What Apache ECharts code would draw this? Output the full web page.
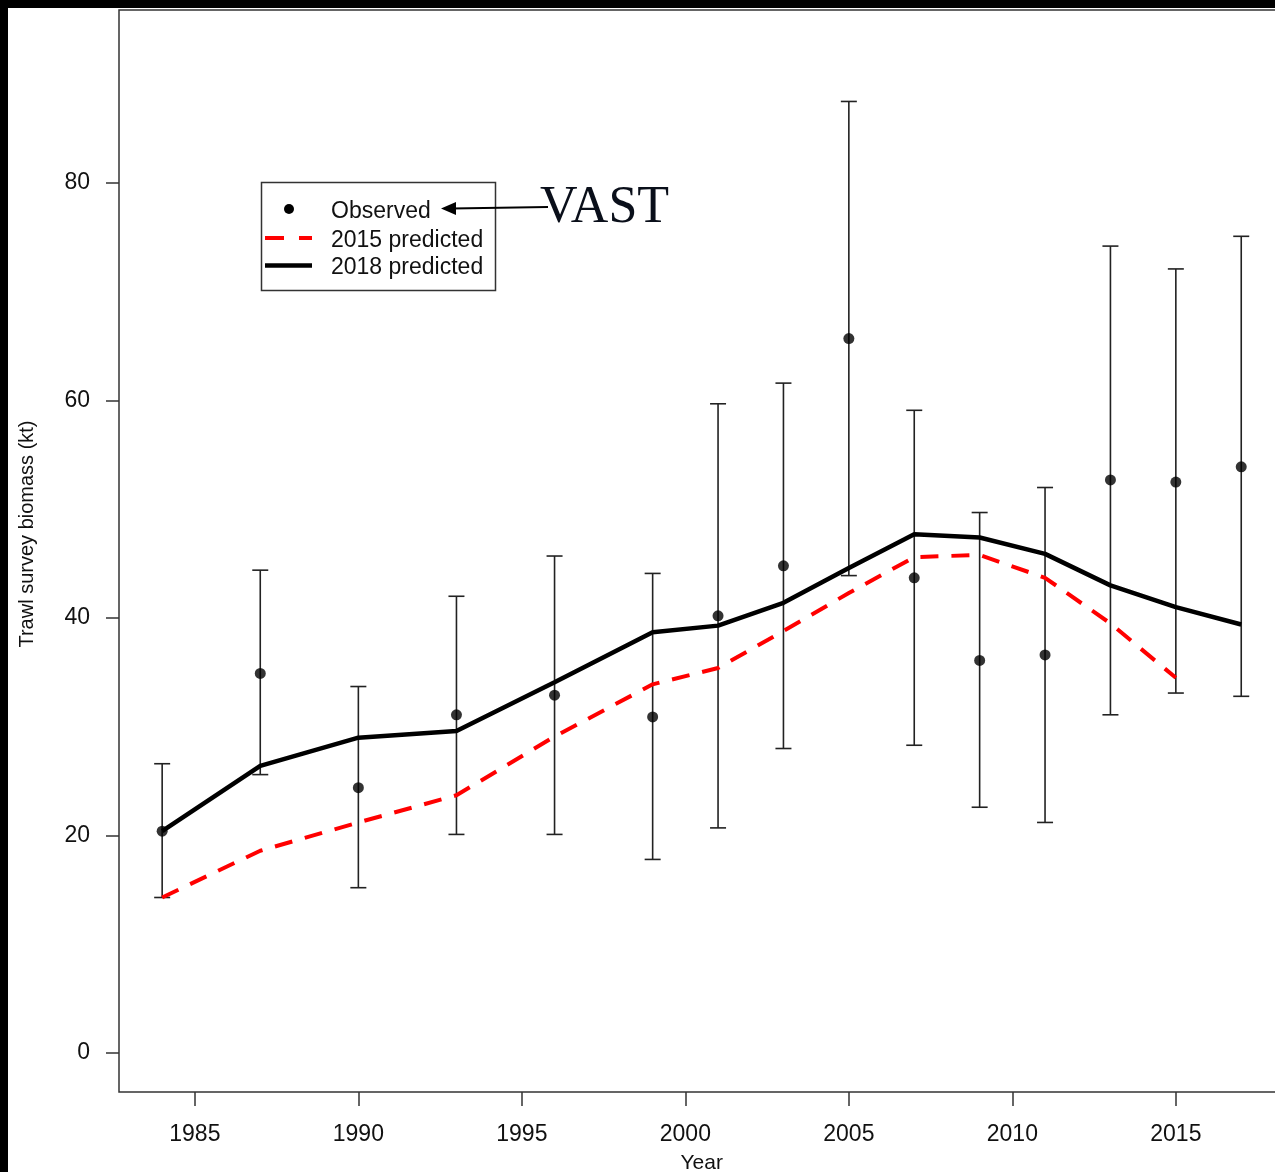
<!DOCTYPE html>
<html>
<head>
<meta charset="utf-8">
<script src="https://cdn.jsdelivr.net/npm/echarts@6/dist/echarts.min.js"></script>
<style>
html,body{margin:0;padding:0;background:#fff;}
#chart{width:1275px;height:1172px;}
</style>
</head>
<body>
<div id="chart"></div>
<script>
// ---- data ----
const years = [1984,1987,1990,1993,1996,1999,2001,2003,2005,2007,2009,2011,2013,2015,2017];
const observed = [20.4,34.9,24.4,31.1,32.9,30.9,40.2,44.8,65.7,43.7,36.1,36.6,52.7,52.5,53.9];
const lowerCI  = [14.3,25.6,15.2,20.1,20.1,17.8,20.7,28.0,43.9,28.3,22.6,21.2,31.1,33.1,32.8];
const upperCI  = [26.6,44.4,33.7,42.0,45.7,44.1,59.7,61.6,87.5,59.1,49.7,52.0,74.2,72.1,75.1];
const pred2018 = [20.4,26.4,29.0,29.6,34.1,38.7,39.3,41.4,44.6,47.7,47.4,45.9,43.0,41.0,39.4];
const years2015 = [1984,1987,1990,1993,1996,1999,2001,2003,2005,2007,2009,2011,2013,2015];
const pred2015 = [14.3,18.6,21.2,23.7,29.1,33.9,35.4,38.8,42.3,45.6,45.8,43.7,39.5,34.5];
const xTicks = [1985,1990,1995,2000,2005,2010,2015];
const yTicks = [0,20,40,60,80];
const legendLabels = ['Observed','2015 predicted','2018 predicted'];

const FONT = 'Liberation Sans, Arial, sans-serif';
const chart = echarts.init(document.getElementById('chart'), null, {renderer:'canvas'});

const obsData = years.map((y,i)=>[y, observed[i]]);
const ciData = years.map((y,i)=>[y, lowerCI[i], upperCI[i]]);
const p18 = years.map((y,i)=>[y, pred2018[i]]);
const p15 = years2015.map((y,i)=>[y, pred2015[i]]);

const option = {
  animation:false,
  backgroundColor:'#fff',
  grid:{left:119, top:10, width:1165.4, height:1082, outerBoundsMode:'none', containLabel:false,
        show:true, borderColor:'#333', borderWidth:1.5, backgroundColor:'transparent'},
  xAxis:{
    type:'value', min:1982.68, max:2018.32,
    name:'Year', nameLocation:'middle', nameGap:61,
    nameTextStyle:{fontFamily:FONT, fontSize:21, color:'#111'},
    axisLine:{show:false, onZero:false},
    splitLine:{show:false},
    axisTick:{show:true, length:14, inside:false, customValues:xTicks, lineStyle:{color:'#333', width:1.5}},
    axisLabel:{customValues:xTicks, margin:31, fontFamily:FONT, fontSize:23, color:'#111', formatter:v=>String(v)}
  },
  yAxis:{
    type:'value', min:-3.586, max:95.91,
    name:'Trawl survey biomass (kt)', nameLocation:'middle', nameGap:82,
    nameTextStyle:{fontFamily:FONT, fontSize:20, color:'#111', padding:[0,0,0,34]},
    axisLine:{show:false, onZero:false},
    splitLine:{show:false},
    axisTick:{show:true, length:13, inside:false, customValues:yTicks, lineStyle:{color:'#333', width:1.5}},
    axisLabel:{customValues:yTicks, margin:29, fontFamily:FONT, fontSize:23, color:'#111', formatter:v=>String(v)}
  },
  series:[
    {
      name:'CI', type:'custom', data:ciData, z:2,
      renderItem:function(params, api){
        const x = api.value(0);
        const lo = api.coord([x, api.value(1)]);
        const hi = api.coord([x, api.value(2)]);
        const hw = 8;
        const st = {stroke:'#222', lineWidth:1.6};
        return {type:'group', children:[
          {type:'line', shape:{x1:lo[0], y1:lo[1], x2:hi[0], y2:hi[1]}, style:st},
          {type:'line', shape:{x1:lo[0]-hw, y1:lo[1], x2:lo[0]+hw, y2:lo[1]}, style:st},
          {type:'line', shape:{x1:hi[0]-hw, y1:hi[1], x2:hi[0]+hw, y2:hi[1]}, style:st}
        ]};
      }
    },
    {name:legendLabels[1], type:'line', data:p15, symbol:'none', z:3,
     lineStyle:{color:'#ff0000', width:4, type:[18,13]}},
    {name:legendLabels[2], type:'line', data:p18, symbol:'none', z:4,
     lineStyle:{color:'#000', width:4.5}},
    {name:legendLabels[0], type:'scatter', data:obsData, symbol:'circle', symbolSize:11, z:5,
     itemStyle:{color:'#000'}}
  ],
  graphic:[
    // legend box
    {type:'rect', shape:{x:261.5, y:182.5, width:234, height:108}, style:{fill:'#fff', stroke:'#333', lineWidth:1.5}, z:10},
    {type:'circle', shape:{cx:289, cy:209, r:5}, style:{fill:'#000'}, z:11},
    {type:'line', shape:{x1:265, y1:238, x2:312, y2:238}, style:{stroke:'#ff0000', lineWidth:4, lineDash:[19,15]}, z:11},
    {type:'line', shape:{x1:265, y1:265.5, x2:312, y2:265.5}, style:{stroke:'#000', lineWidth:4.5}, z:11},
    {type:'text', x:331, y:212, style:{text:legendLabels[0], font:'23px '+FONT, fill:'#111', verticalAlign:'middle'}, z:11},
    {type:'text', x:331, y:241, style:{text:legendLabels[1], font:'23px '+FONT, fill:'#111', verticalAlign:'middle'}, z:11},
    {type:'text', x:331, y:268, style:{text:legendLabels[2], font:'23px '+FONT, fill:'#111', verticalAlign:'middle'}, z:11},
    // VAST annotation with arrow
    {type:'text', x:540, y:208, style:{text:'VAST', font:'52px "Liberation Serif", "Times New Roman", serif', fill:'#0a0f1a', verticalAlign:'middle'}, z:11},
    {type:'line', shape:{x1:548, y1:207, x2:452, y2:208.5}, style:{stroke:'#000', lineWidth:2}, z:11},
    {type:'polygon', shape:{points:[[441,208.5],[456,202],[456,215]]}, style:{fill:'#000'}, z:11},
    // black borders of the original image
    {type:'rect', shape:{x:0, y:0, width:8, height:1172}, style:{fill:'#000'}, z:20},
    {type:'rect', shape:{x:0, y:0, width:1275, height:8}, style:{fill:'#000'}, z:20}
  ]
};
chart.setOption(option);
</script>
</body>
</html>
